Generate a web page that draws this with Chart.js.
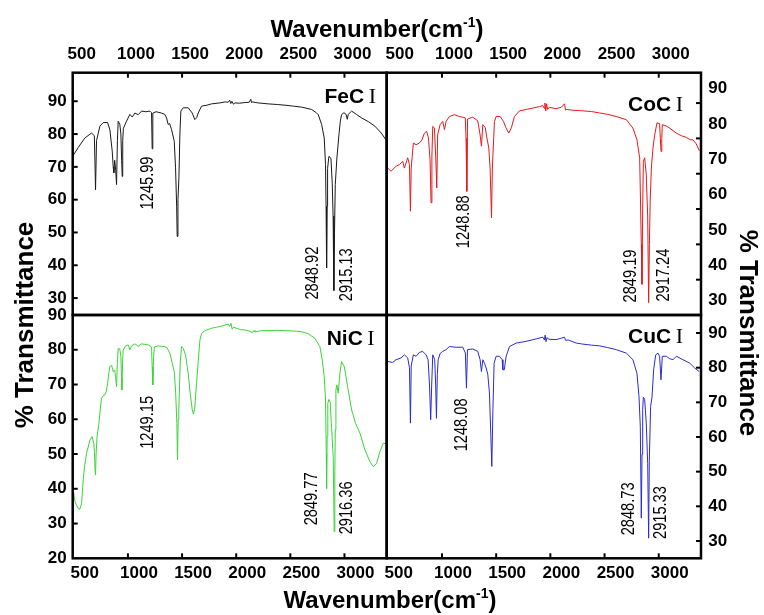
<!DOCTYPE html>
<html><head><meta charset="utf-8">
<script src="https://cdn.jsdelivr.net/npm/chart.js@4.4.1/dist/chart.umd.min.js"></script>
<style>
html,body{margin:0;padding:0;background:#fff;}
#wrap{position:relative;width:764px;height:615px;overflow:hidden;background:#fff;}
canvas{position:absolute;left:0;top:0;}
.t{position:absolute;font-family:'Liberation Sans',Arial,sans-serif;font-weight:bold;color:#000;white-space:nowrap;text-align:center;}
</style></head><body>
<div id="wrap">
<canvas id="cFe" width="764" height="615"></canvas>
<canvas id="cCo" width="764" height="615"></canvas>
<canvas id="cNi" width="764" height="615"></canvas>
<canvas id="cCu" width="764" height="615"></canvas>
<div class="t" style="left:177px;top:17px;width:400px;font-size:24px;line-height:24px;">Wavenumber(cm<span style="font-size:14px;position:relative;top:-10px;">-1</span>)</div>
<div class="t" style="left:190px;top:588px;width:400px;font-size:24px;line-height:24px;">Wavenumber(cm<span style="font-size:14px;position:relative;top:-10px;">-1</span>)</div>
<div class="t" style="left:-126px;top:310px;width:300px;height:30px;font-size:26px;line-height:30px;transform:rotate(-90deg);">% Transmittance</div>
<div class="t" style="left:598.5px;top:318px;width:300px;height:30px;font-size:26px;line-height:30px;transform:rotate(90deg);">% Transmittance</div>
</div>
<script>
// ---------- data ----------
const xTickValues = [500, 1000, 1500, 2000, 2500, 3000];
const xTickLabels = ['500', '1000', '1500', '2000', '2500', '3000'];
const yTicksTop = [30, 40, 50, 60, 70, 80, 90];
const yTicksNi = [20, 30, 40, 50, 60, 70, 80, 90];
const yTicksCu = [30, 40, 50, 60, 70, 80, 90];

const panelNames = ['FeC', 'CoC', 'NiC', 'CuC'];
const romanLabel = 'I';

const fePeakLabels = ['1245.99', '2848.92', '2915.13'];
const coPeakLabels = ['1248.88', '2849.19', '2917.24'];
const niPeakLabels = ['1249.15', '2849.77', '2916.36'];
const cuPeakLabels = ['1248.08', '2848.73', '2915.33'];

const feWave = [495,541,602,664,690,701,710,741,772,812,833,855,864,870,878,887,895,903,910,925,935,942,947,952,958,987,1018,1040,1064,1095,1126,1165,1203,1218,1224,1230,1260,1310,1340,1357,1372,1385,1403,1428,1440,1450,1455,1462,1471,1480,1489,1511,1557,1594,1618,1635,1649,1680,1730,1772,1850,1900,1926,1940,1950,1960,1975,1988,2030,2080,2120,2135,2142,2150,2200,2295,2380,2450,2530,2604,2696,2740,2758,2789,2813,2825,2830,2835,2840,2844,2856,2875,2887,2895,2902,2908,2915,2930,2949,2962,2973,2995,3015,3026,3035,3066,3110,3158,3220,3281,3340,3382];
const feT = [73.5,75.9,78.8,80.3,79.5,63,78,82.4,83.5,83.5,81.4,74.8,70,68.2,72,69,64.6,78,83.9,83,80,72,67.1,78,81.7,83.9,86,85.2,86.4,85.9,87,86.8,87,86.5,75.5,86.4,86.8,86.4,86,84.9,82.9,83.2,81.4,77.8,69.7,58,48.8,60,66.7,80,87,88,88,86.4,84.4,85,86.4,88.5,88.8,89.2,89.5,89.8,89.7,90.3,89.3,90,89.1,89.5,89.4,89.6,89.7,90.6,89.6,89.8,89.5,89.2,89,88.8,88.5,88.2,87.5,86.5,85.9,82.9,78.8,70.7,58,39.2,58,69.5,73.2,72.6,65,55,32.3,50,64.6,72.7,79.8,84,85.9,86.5,86,84.5,86,87,86,84.9,83.8,82.4,80.3,78.3];

const coWave = [499,530,576,607,638,653,684,700,709,716,736,761,792,816,838,858,875,890,899,907,915,930,942,952,960,983,1007,1023,1038,1069,1115,1160,1192,1215,1222,1229,1236,1284,1330,1352,1364,1377,1400,1414,1432,1444,1457,1465,1484,1500,1537,1568,1590,1617,1640,1669,1715,1780,1839,1900,1931,1945,1950,1958,1965,1975,1990,2054,2100,2131,2140,2150,2200,2300,2380,2454,2530,2608,2701,2762,2799,2824,2832,2839,2845,2852,2858,2870,2885,2898,2907,2914,2921,2932,2947,2962,2984,3008,3015,3021,3028,3033,3070,3101,3162,3220,3255,3290,3316,3345,3375];
const coT = [71.6,70.7,72.1,72.6,73.5,71.6,74.5,72.6,59.4,71.6,78.7,78.2,78.7,79.6,81.5,82,80.2,74,61.8,75,83.4,83,75,66,81,83.9,84.8,82.5,84.8,86.2,86.7,86.2,86,85.8,80,65,85.5,86,85,81,77.8,83.9,83,80.2,77.3,71.6,57.5,71.6,84.8,86.2,86.2,84.8,83,81.5,83,86.2,87.8,88.2,88.6,89,89.3,88.5,90,87.8,89.8,88.2,88.8,88.4,88.8,89.8,88,88.2,88,87.8,87.6,87.2,86.8,86.2,85.3,82.9,79.6,74.5,62,50,38.7,60,73.5,74.5,69.7,58,33.5,50,62.2,71.6,77.3,80.9,84.4,84.2,80,76.3,80,83.9,83.5,82.9,81.5,80.6,80.3,79.6,79.6,78.5,76.5];

const niWave = [495,510,525,545,556,572,587,600,618,649,670,685,692,697,701,706,715,732,745,756,772,787,800,812,825,833,849,864,878,886,895,902,910,925,935,941,944,950,956,978,1003,1018,1033,1064,1095,1126,1187,1218,1224,1230,1237,1245,1280,1341,1360,1372,1388,1409,1428,1440,1452,1458,1464,1470,1483,1495,1511,1532,1557,1575,1594,1606,1618,1634,1649,1665,1680,1711,1772,1820,1865,1926,1940,1952,1963,1975,2000,2040,2080,2120,2150,2165,2173,2230,2296,2380,2450,2530,2604,2665,2727,2773,2795,2813,2825,2832,2835,2840,2846,2856,2868,2881,2896,2905,2911,2915,2921,2930,2942,2958,2973,2998,3029,3066,3103,3143,3189,3235,3266,3297,3327,3358,3380];
const niT = [39.7,36.5,35.3,34.2,34.1,35.8,42.5,46.5,50.2,54,55,53,50,45,44,50,55,58.8,63,66,66.8,67,68,70.3,73.5,75.1,75.6,73.7,74.2,72,69.4,76,80.4,80.2,78,72,68.4,76,79.9,81.1,81.4,80,81.1,81.7,81,81.7,81.4,80.8,75,69.9,78,80.8,81.1,80.9,80.6,79.9,79,76.1,73.7,68.4,58.8,48.3,60,62.7,76.1,80.9,80.4,78.5,73.2,67.5,62.7,61.5,63.6,70.3,76.6,82.8,84.7,85.5,86.2,86.5,86.8,87.4,86.7,87.6,85.9,86.5,86.2,85.8,85.7,85.4,84.9,85.5,85.1,85.5,85.5,85.6,85.5,85.4,85.2,84.6,83.3,80.9,77,72.3,65.5,50,40.1,55,64.6,65.7,65,57.6,49,27.7,45,57,68.4,69.9,67.5,73.2,76.6,75.2,69.4,62.7,58.8,56,51.2,47.8,46.4,47.3,50.7,53.1,53];

const cuWave = [499,545,576,622,653,684,700,709,716,736,761,792,822,853,872,885,896,905,915,933,942,949,957,965,983,1007,1038,1069,1130,1192,1216,1226,1235,1284,1330,1352,1364,1377,1392,1408,1423,1438,1451,1460,1470,1481,1500,1531,1555,1562,1575,1592,1623,1685,1777,1869,1931,1945,1952,1960,1970,1985,2054,2100,2131,2140,2165,2239,2300,2380,2454,2530,2608,2701,2762,2799,2818,2830,2839,2846,2852,2858,2870,2885,2898,2907,2913,2925,2938,2953,2972,2993,3008,3021,3033,3070,3100,3132,3163,3224,3286,3332,3372];
const cuT = [81.8,81.5,82.3,82.8,83.7,82.8,80,64,80.5,83.7,83.3,84.4,84.7,83.7,82.3,75,65,75,83.7,82.3,75,65.4,78,82.3,84.1,84.7,85.2,86.1,85.9,85.9,84.2,74.1,85.2,85.4,84.7,82.3,78.9,82.3,81.3,79.9,78,72.7,60.2,51.5,67.9,81.3,83.3,83.3,82.3,79.4,79.4,83.3,86.1,87.1,87.6,88.3,88.8,88,89.4,87.5,88.7,88.2,88.1,88.5,88.8,87.9,88,87.1,86.8,86.5,86.3,85.8,85.2,84.2,82.3,78.4,71.7,63,36.6,55,67.9,71.5,70.9,64,52.4,30.8,53,68.8,71.5,79.4,83.7,84.2,83.3,76.5,83.3,83.3,82.6,82.3,83.3,82.3,81.3,79.9,78.9];

// ---------- drawing ----------
const decoPlugin = {
  id: 'deco',
  afterDatasetsDraw(chart, args, o) {
    const ctx = chart.ctx, a = chart.chartArea;
    const xs = chart.scales.x, ys = chart.scales.y;
    ctx.save();
    ctx.strokeStyle = '#000';
    ctx.lineWidth = 2;
    xTickValues.forEach(v => {
      const px = xs.getPixelForValue(v);
      if (px < a.left + 3 || px > a.right - 3) return;
      const edge = o.xSide === 'top' ? a.top : a.bottom;
      const dir = o.xSide === 'top' ? 1 : -1;
      ctx.beginPath(); ctx.moveTo(px, edge); ctx.lineTo(px, edge + dir * 5); ctx.stroke();
    });
    o.yTicks.forEach(v => {
      const py = ys.getPixelForValue(v);
      if (py < a.top + 3 || py > a.bottom - 3) return;
      const edge = o.ySide === 'left' ? a.left : a.right;
      const dir = o.ySide === 'left' ? 1 : -1;
      ctx.beginPath(); ctx.moveTo(edge, py); ctx.lineTo(edge + dir * 5, py); ctx.stroke();
    });
    ctx.lineWidth = 2.5;
    ctx.strokeRect(a.left, a.top, a.right - a.left, a.bottom - a.top);
    // panel name
    ctx.fillStyle = '#000';
    ctx.textBaseline = 'alphabetic';
    ctx.textAlign = 'right';
    const xr = a.right - o.nameDx, yb = a.top + o.nameDy;
    ctx.font = '22px "Liberation Serif", serif';
    ctx.fillText(romanLabel, xr, yb);
    const wI = ctx.measureText(romanLabel).width;
    ctx.font = 'bold 21px "Liberation Sans", Arial, sans-serif';
    ctx.fillText(o.name, xr - wI - 4.5, yb);
    // peak labels
    ctx.font = '19px "Liberation Sans", Arial, sans-serif';
    ctx.textAlign = 'center';
    ctx.textBaseline = 'middle';
    o.peaks.forEach((txt, i) => {
      const px = xs.getPixelForValue(o.peakAnchors[i][0]);
      const py = ys.getPixelForValue(o.peakAnchors[i][1]);
      ctx.save();
      ctx.translate(px, py);
      ctx.rotate(-Math.PI / 2);
      ctx.scale(0.77, 1);
      ctx.fillText(txt, 0, 0);
      ctx.restore();
    });
    ctx.restore();
  }
};

function makePanel(id, wave, trans, color, cfg) {
  const tickFont = { family: 'Liberation Sans', size: 17, weight: 'bold' };
  return new Chart(document.getElementById(id), {
    type: 'line',
    data: { datasets: [{
      data: wave.map((w, i) => ({ x: w, y: trans[i] })),
      borderColor: color, borderWidth: 1, pointRadius: 0, tension: 0, fill: false
    }] },
    options: {
      responsive: false, animation: false, devicePixelRatio: 1, events: [],
      layout: { padding: cfg.padding },
      plugins: { legend: { display: false }, tooltip: { enabled: false }, deco: cfg.deco },
      scales: {
        x: {
          type: 'linear', position: cfg.xPos, min: 490, max: 3390,
          afterBuildTicks: s => { s.ticks = xTickValues.map(v => ({ value: v })); },
          afterFit: s => { s.height = 40; },
          grid: { display: false, drawTicks: false }, border: { display: false },
          ticks: { font: tickFont, color: '#000', padding: cfg.xPad, labelOffset: cfg.xLabelOffset,
                   maxRotation: 0, minRotation: 0, autoSkip: false,
                   callback: (v, i) => xTickLabels[i] }
        },
        y: {
          type: 'linear', position: cfg.yPos, min: cfg.yMin, max: cfg.yMax,
          afterBuildTicks: s => { s.ticks = cfg.yTicks.map(v => ({ value: v })); },
          afterFit: s => { s.width = 60; },
          grid: { display: false, drawTicks: false }, border: { display: false },
          ticks: { font: tickFont, color: '#000', padding: cfg.yPad, labelOffset: cfg.yLabelOffset || 0,
                   autoSkip: false, callback: (v, i) => String(cfg.yTicks[i]) }
        }
      }
    },
    plugins: [decoPlugin]
  });
}

makePanel('cFe', feWave, feT, '#1a1a1a', {
  padding: { left: 12.7, top: 32.7, right: 377.3, bottom: 300 },
  xPos: 'top', yPos: 'left', xPad: 8, yPad: 6, xLabelOffset: 8,
  yMin: 24.85, yMax: 98.7, yTicks: yTicksTop,
  deco: { xSide: 'top', ySide: 'left', yTicks: yTicksTop, name: panelNames[0], nameDx: 10.7, nameDy: 30.3,
          peaks: fePeakLabels, peakAnchors: [[1185, 65.1], [2709, 37.6], [3017, 37.1]] }
});
makePanel('cCo', coWave, coT, '#e41a1c', {
  padding: { left: 386.7, top: 32.7, right: 3, bottom: 300 },
  xPos: 'top', yPos: 'right', xPad: 8, yPad: 7.3, xLabelOffset: 12, yLabelOffset: -14.5,
  yMin: 30, yMax: 98.6, yTicks: yTicksTop,
  deco: { xSide: 'top', ySide: 'right', yTicks: yTicksTop, name: panelNames[1], nameDx: 18, nameDy: 38,
          peaks: coPeakLabels, peakAnchors: [[1201, 56.4], [2742, 41.05], [3042, 41.3]] }
});
makePanel('cNi', niWave, niT, '#3ad43a', {
  padding: { left: 12.7, top: 315, right: 377.3, bottom: 16.7 },
  xPos: 'bottom', yPos: 'left', xPad: 5, yPad: 6, xLabelOffset: 11,
  yMin: 20, yMax: 90, yTicks: yTicksNi,
  deco: { xSide: 'bottom', ySide: 'left', yTicks: yTicksNi, name: panelNames[2], nameDx: 12, nameDy: 30,
          peaks: niPeakLabels, peakAnchors: [[1185, 59.1], [2694, 37.1], [3017, 34.5]] }
});
makePanel('cCu', cuWave, cuT, '#2b2bd0', {
  padding: { left: 386.7, top: 315, right: 3, bottom: 16.7 },
  xPos: 'bottom', yPos: 'right', xPad: 5, yPad: 7.3, xLabelOffset: 11,
  yMin: 25, yMax: 95.2, yTicks: yTicksCu,
  deco: { xSide: 'bottom', ySide: 'right', yTicks: yTicksCu, name: panelNames[3], nameDx: 18, nameDy: 28,
          peaks: cuPeakLabels, peakAnchors: [[1185, 63.5], [2719, 39.25], [3019, 38.2]] }
});
</script>
</body></html>
